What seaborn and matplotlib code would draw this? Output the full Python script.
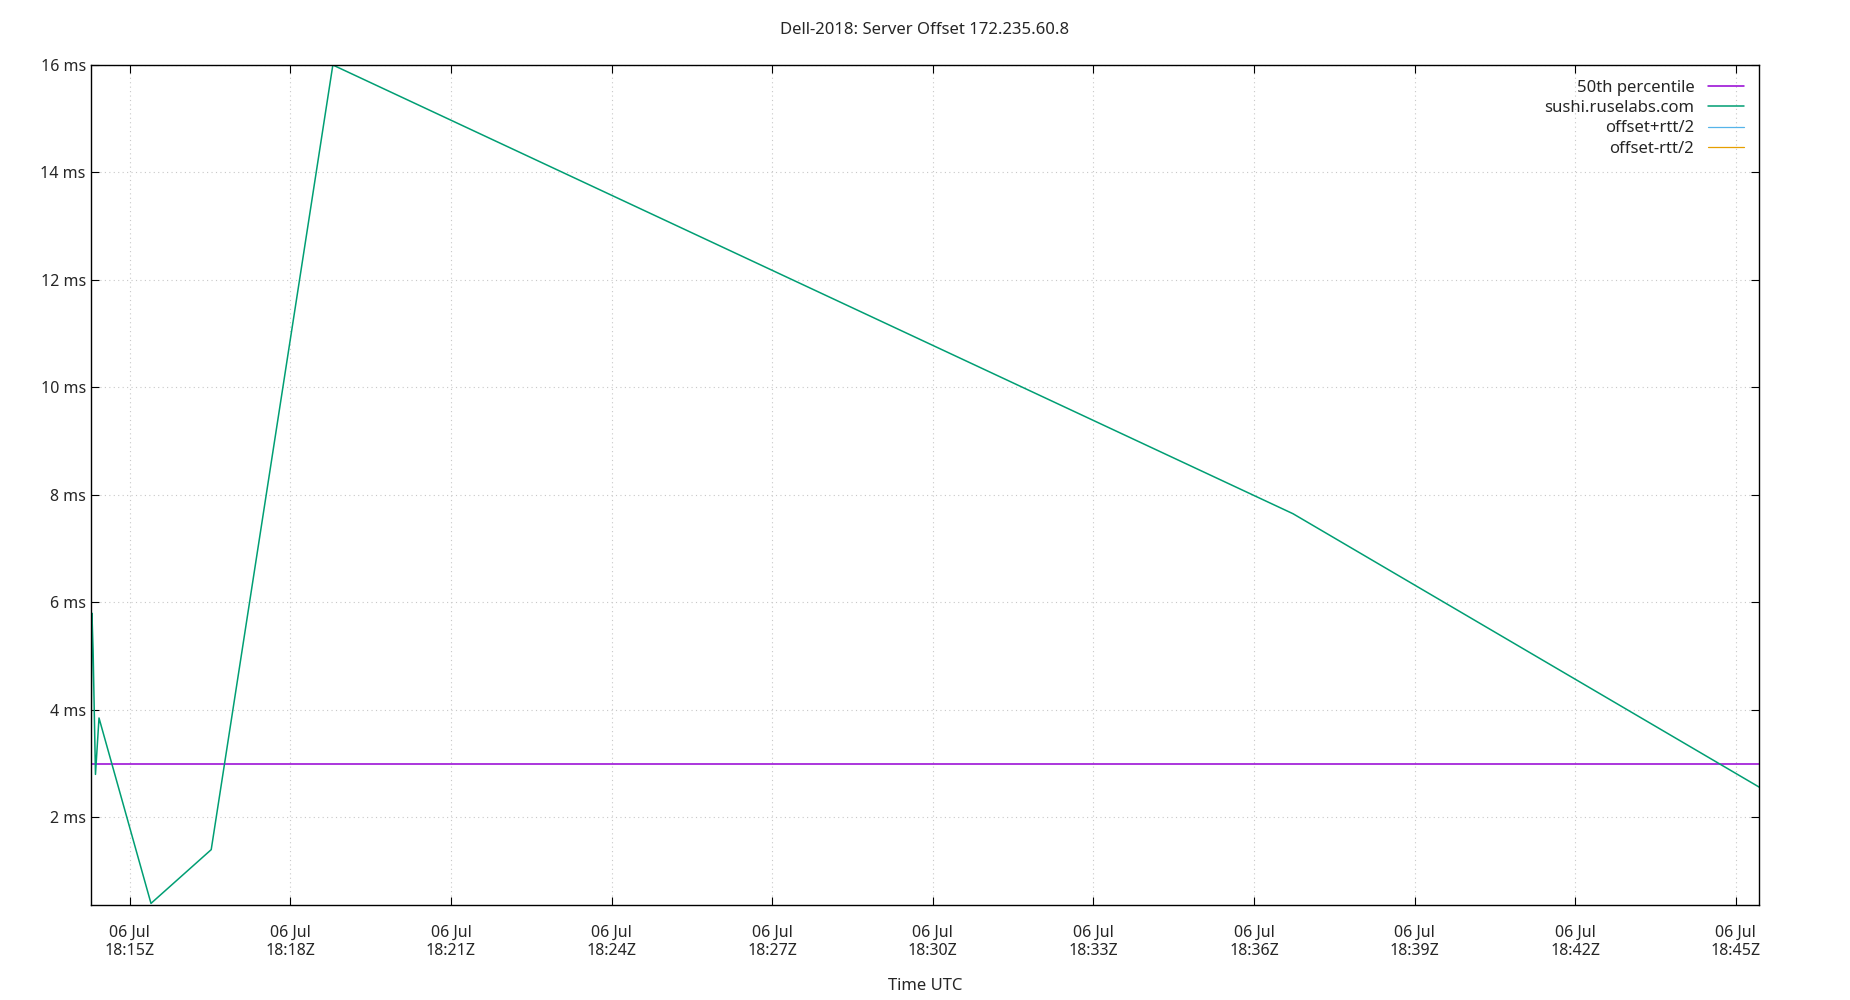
import matplotlib
matplotlib.use('Agg')
import matplotlib.pyplot as plt
import matplotlib.dates as mdates
from matplotlib.ticker import FuncFormatter
import seaborn as sns
import pandas as pd
import numpy as np

# minutes after 18:15 UTC, offset in ms
minutes = [-0.728, -0.706, -0.684, -0.64, -0.574, 0.397, 1.522, 3.794, 21.73, 30.46]
offset_ms = [2.2, 5.8, 5.1, 2.8, 3.85, 0.4, 1.4, 16.0, 7.65, 2.55]
median_ms = 3.0

base = pd.Timestamp('2018-07-06 18:15:00')
times = [base + pd.Timedelta(minutes=m) for m in minutes]
df = pd.DataFrame({'time': times, 'offset': offset_ms})

sns.set_style('white')
plt.rcParams['font.family'] = ['Noto Sans', 'DejaVu Sans']
fig, ax = plt.subplots(figsize=(18.5, 10), dpi=100)
fig.subplots_adjust(left=0.049, right=0.951, top=0.935, bottom=0.095)

t0 = base - pd.Timedelta(minutes=0.73)
t1 = base + pd.Timedelta(minutes=30.44)
ax.plot([t0, t1], [median_ms, median_ms], color='#9400d3', lw=1.1, label='50th percentile')
sns.lineplot(data=df, x='time', y='offset', ax=ax, color='#009e73', lw=1.1, label='sushi.ruselabs.com')
ax.plot([], [], color='#56b4e9', lw=0.9, label='offset+rtt/2')
ax.plot([], [], color='#e69f00', lw=0.9, label='offset-rtt/2')

ax.set_xlim(t0, t1)
ax.set_ylim(0.37, 16)
ax.set_yticks([2, 4, 6, 8, 10, 12, 14, 16])
ax.yaxis.set_major_formatter(FuncFormatter(lambda v, p: f'{int(v)} ms'))
ax.xaxis.set_major_locator(mdates.MinuteLocator(byminute=range(0, 60, 3)))
ax.xaxis.set_major_formatter(mdates.DateFormatter('%d %b\n%H:%MZ'))
ax.tick_params(axis='both', direction='in', length=6, labelsize=11.5, color='black',
               top=True, right=True, bottom=True, left=True)
ax.tick_params(axis='x', pad=14)
ax.grid(True, color='#c8c8c8', linestyle=(0, (1, 3)), lw=0.8)
for s in ax.spines.values():
    s.set_color('black')
    s.set_linewidth(1)

ax.set_xlabel('Time UTC', fontsize=12, labelpad=14)
ax.set_ylabel('')
ax.set_title('Dell-2018: Server Offset 172.235.60.8', fontsize=12, pad=22)
leg = ax.legend(loc='upper right', frameon=False, markerfirst=False, fontsize=12,
                handlelength=2.2, labelspacing=0.25)

fig.savefig('out.png', dpi=100)
